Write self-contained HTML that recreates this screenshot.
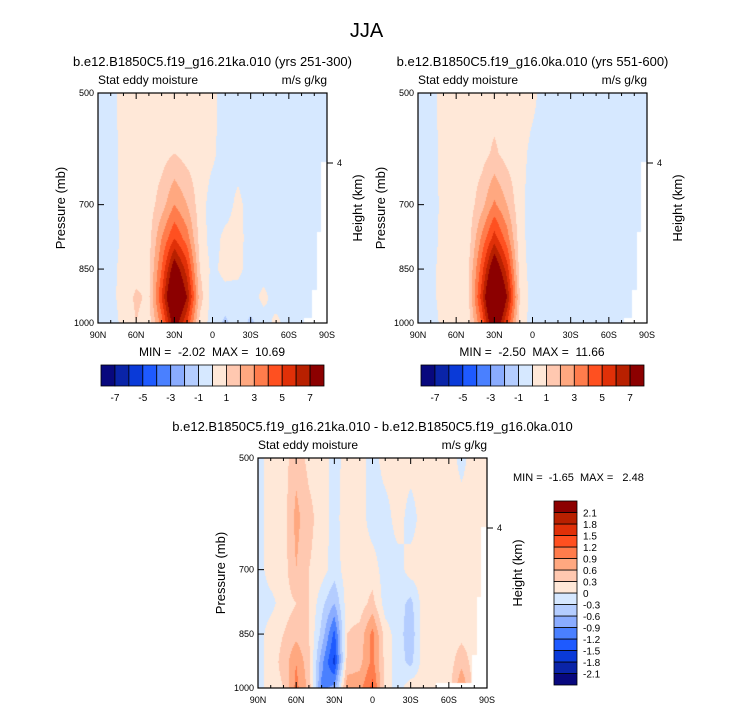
<!DOCTYPE html>
<html><head><meta charset="utf-8"><style>
body{margin:0;background:#fff;width:733px;height:712px;overflow:hidden;position:relative;font-family:"Liberation Sans",Arial,sans-serif}
.t{position:absolute;white-space:nowrap;color:#000}
canvas{position:absolute}
svg{position:absolute;left:0;top:0}
svg text{white-space:pre}
</style></head><body>
<div class="t" style="left:0;width:733px;text-align:center;top:20px;font-size:20px">JJA</div>
<svg id="ov" width="733" height="712"></svg>
<script>
const lats=[90,80,70,60,50,40,30,20,10,0,-10,-20,-30,-40,-50,-60,-70,-80,-90];
const plevs=[500,600,700,775,850,925,1000];
const grid1=[
[-0.5,-0.5,0.5,0.5,0.5,0.5,0.5,0.5,0.5,0.3,-0.5,-0.5,-0.5,-0.5,-0.5,-0.5,-0.5,-0.5,-0.5],
[-0.5,-0.5,0.4,0.5,0.5,0.6,1.0,0.6,0.5,0.2,-0.5,-0.5,-0.5,-0.5,-0.5,-0.5,-0.5,-0.5,-0.5],
[-0.5,-0.4,0.3,0.4,0.5,1.5,3.0,2.0,0.5,-0.5,-0.5,0.3,-0.5,-0.5,-0.5,-0.5,-0.5,-0.5,-0.5],
[-0.5,-0.4,0.2,0.4,0.6,3.0,5.0,3.5,0.6,-0.5,0.3,0.4,-0.5,-0.5,-0.5,-0.5,-0.5,-0.5,-0.5],
[-0.5,-0.3,0.3,0.5,0.8,4.0,8.0,5.5,1.0,-0.3,0.4,0.3,-0.5,-0.5,-0.5,-0.5,-0.5,-0.5,-0.5],
[-0.5,-0.3,0.4,1.2,0.8,5.0,10.0,7.0,1.5,-0.5,-0.5,-0.5,-0.5,0.3,-0.5,-0.5,-0.5,-0.5,-0.5],
[-0.5,-0.5,0.3,1.0,0.5,3.5,8.0,5.0,0.7,-0.5,-1.2,-0.5,-1.2,-0.5,0.3,-0.5,-0.5,-0.5,-0.5]];
const grid2=[
[-0.5,-0.5,0.5,0.5,0.5,0.5,0.5,0.5,0.5,0.3,-0.5,-0.5,-0.5,-0.5,-0.5,-0.5,-0.5,-0.5,-0.5],
[-0.5,-0.5,0.4,0.4,0.5,0.6,1.2,0.6,0.4,-0.3,-0.5,-0.5,-0.5,-0.5,-0.5,-0.5,-0.5,-0.5,-0.5],
[-0.5,-0.5,0.3,0.4,0.5,1.6,3.2,2.0,0.3,-0.5,-0.5,-0.5,-0.5,-0.5,-0.5,-0.5,-0.5,-0.5,-0.5],
[-0.5,-0.4,0.3,0.4,0.6,3.2,5.5,3.5,0.4,-0.5,-0.5,-0.5,-0.5,-0.5,-0.5,-0.5,-0.5,-0.5,-0.5],
[-0.5,-0.3,0.4,0.5,1.0,4.5,8.5,5.5,0.6,-0.5,-0.5,-0.5,-0.5,-0.5,-0.5,-0.5,-0.5,-0.5,-0.5],
[-0.5,-0.3,0.4,0.6,1.0,5.5,11.0,7.0,1.0,-0.5,-0.5,-0.5,-0.5,-0.5,-0.5,-0.5,-0.5,-0.5,-0.5],
[-0.5,-0.5,0.3,0.6,0.6,4.0,9.0,5.0,0.6,-0.5,-1.0,-0.5,-0.5,-0.5,-0.5,-0.5,-0.5,-0.5,-0.5]];
const grid3=[
[-0.15,0.15,0.15,0.5,0.2,0.2,-0.15,0.15,0.15,-0.15,0.15,0.15,0.15,0.15,0.15,0.15,-0.1,0.15,0.15],
[-0.15,0.15,0.15,0.7,0.4,0.15,-0.1,0.15,0.15,-0.15,-0.15,0.15,-0.15,0.15,0.15,0.15,0.15,0.15,0.15],
[-0.15,0.15,0.15,0.6,0.3,0.15,-0.15,0.15,0.15,0.15,-0.15,-0.15,0.15,0.15,0.15,0.15,0.15,0.15,0.15],
[-0.15,-0.1,0.15,0.3,0.3,-0.2,-0.6,0.15,0.15,0.4,-0.15,-0.15,-0.4,0.15,0.15,0.15,0.15,0.15,0.15],
[-0.15,0.15,0.3,0.5,0.3,-0.4,-1.3,0.3,0.4,1.0,0.15,-0.15,-0.5,0.15,0.15,0.15,0.2,0.15,0.15],
[-0.15,0.15,0.4,0.9,0.4,-0.8,-1.6,0.4,0.5,1.0,0.2,-0.15,-0.4,0.15,0.15,0.15,0.5,0.15,0.15],
[-0.15,0.15,0.3,1.0,0.5,-1.0,-0.8,0.8,0.8,1.3,0.15,-0.15,0.2,0.15,0.15,0.15,0.9,0.15,0.15]];
const lev1=[-7,-6,-5,-4,-3,-2,-1,0,1,2,3,4,5,6,7];
const lev3=[-2.1,-1.8,-1.5,-1.2,-0.9,-0.6,-0.3,0,0.3,0.6,0.9,1.2,1.5,1.8,2.1];
const cols=["#08087e","#0a24a8","#0a3ad8","#1e5aff","#4a80ff","#8aacff","#b4cdff","#d6e8ff","#ffe8d8","#ffc8b0","#ffa880","#ff7c4c","#ff5020","#e03008","#b82000","#8c0000"];
const svg=document.getElementById('ov');const NS="http://www.w3.org/2000/svg";
function el(t,a,txt){const e=document.createElementNS(NS,t);for(const k in a)e.setAttribute(k,a[k]);if(txt!=null)e.textContent=txt;svg.appendChild(e);return e;}
const W=229,H=230;
function xs(ox,lat){return ox+(90-lat)/180*W;}
function ys(oy,p){return oy+Math.log(p/500)/Math.log(2)*H;}
function colorOf(v,lev){let i=0;while(i<lev.length&&v>=lev[i])i++;return cols[i];}
function masked(lat,p,wide){
  if(lat<-85.5&&p>615)return true;
  if(lat<-82&&p>760)return true;
  if(lat<-78&&p>905)return true;
  if(lat<(wide?-50:-72)&&p>985)return true;
  return false;}
function sample(g,lat,p){
  let i=Math.min(17,Math.floor((90-lat)/10));let fx=(90-lat)/10-i;
  let j=0;while(j<plevs.length-2&&p>plevs[j+1])j++;
  let fy=(Math.log(p)-Math.log(plevs[j]))/(Math.log(plevs[j+1])-Math.log(plevs[j]));
  const a=g[j][i],b=g[j][i+1],c=g[j+1][i],d=g[j+1][i+1];
  return a*(1-fx)*(1-fy)+b*fx*(1-fy)+c*(1-fx)*fy+d*fx*fy;}
function panel(name,ox,oy,g,lev,title,wide){
  const cv=document.createElement('canvas');cv.width=W;cv.height=H;cv.style.left=ox+'px';cv.style.top=oy+'px';
  
  document.body.insertBefore(cv,svg);
  const ctx=cv.getContext('2d');
  for(let y=0;y<H;y++){const p=500*Math.pow(2,(y+0.5)/H);
    for(let x=0;x<W;x++){const lat=90-(x+0.5)/W*180;if(masked(lat,p,wide))continue;const v=sample(g,lat,p);
      ctx.fillStyle=colorOf(v,lev);ctx.fillRect(x,y,1,1);}}
  el('rect',{x:ox,y:oy,width:W,height:H,fill:'none',stroke:'#000','stroke-width':1.2,});
  const lbl=['90N','60N','30N','0','30S','60S','90S'];
  for(let k=0;k<=18;k++){const x=xs(ox,90-k*10);const L=k%3==0?6:3;
    el('line',{x1:x,x2:x,y1:oy+H,y2:oy+H-L,stroke:'#000'});el('line',{x1:x,x2:x,y1:oy,y2:oy+L,stroke:'#000'});
    if(k%3==0)el('text',{x:x,y:oy+H+15,'font-size':9,'text-anchor':'middle',},lbl[k/3]);}
  [500,700,850,1000].forEach(p=>{const y=ys(oy,p);el('line',{x1:ox,x2:ox+6,y1:y,y2:y,stroke:'#000'});
    el('text',{x:ox-4,y:y+3,'font-size':9,'text-anchor':'end',},p);});
  const hy=oy+70;el('line',{x1:ox+W,x2:ox+W+6,y1:hy,y2:hy,stroke:'#000'});
  el('text',{x:ox+W+10,y:hy+3,'font-size':9,},'4');
  el('text',{x:ox+W/2,y:oy-27,'font-size':13,'text-anchor':'middle',},title);
  el('text',{x:ox,y:oy-9,'font-size':12,},'Stat eddy moisture');
  el('text',{x:ox+W,y:oy-9,'font-size':12,'text-anchor':'end',},'m/s g/kg');
  el('text',{x:ox-33,y:oy+H/2,'font-size':13,'text-anchor':'middle',transform:`rotate(-90 ${ox-33} ${oy+H/2})`,},'Pressure (mb)');
  el('text',{x:ox+W+35,y:oy+H/2,'font-size':13,'text-anchor':'middle',transform:`rotate(-90 ${ox+W+35} ${oy+H/2})`,},'Height (km)');
}
function hbar(name,x0,y0,w,h,lev,labs){const cw=w/16;
  for(let i=0;i<16;i++)el('rect',{x:x0+i*cw,y:y0,width:cw,height:h,fill:cols[i],stroke:'#000','stroke-width':0.8,});
  labs.forEach(v=>{const i=lev.indexOf(v);el('text',{x:x0+(i+1)*cw,y:y0+h+15,'font-size':10,'text-anchor':'middle',},v);});}
panel('panel-1',98,93,grid1,lev1,'b.e12.B1850C5.f19_g16.21ka.010 (yrs 251-300)',false);
panel('panel-2',418,93,grid2,lev1,'b.e12.B1850C5.f19_g16.0ka.010 (yrs 551-600)',false);
panel('panel-3',258,458,grid3,lev3,'b.e12.B1850C5.f19_g16.21ka.010 - b.e12.B1850C5.f19_g16.0ka.010',true);
el('text',{x:212,y:356,'font-size':12,'text-anchor':'middle',},'MIN =  -2.02  MAX =  10.69');
el('text',{x:532,y:356,'font-size':12,'text-anchor':'middle',},'MIN =  -2.50  MAX =  11.66');
el('text',{x:513,y:481,'font-size':11,},'MIN =  -1.65  MAX =   2.48');
hbar('colorbar-1',101,365,223,21,lev1,[-7,-5,-3,-1,1,3,5,7]);
hbar('colorbar-2',421,365,223,21,lev1,[-7,-5,-3,-1,1,3,5,7]);
(function(){const x0=554,y0=501,w=23,h=184,ch=h/16;
  for(let i=0;i<16;i++)el('rect',{x:x0,y:y0+(15-i)*ch,width:w,height:ch,fill:cols[i],stroke:'#000','stroke-width':0.8,});
  lev3.forEach((v,i)=>el('text',{x:x0+w+6,y:y0+(15-i)*ch+4,'font-size':10,},v));})();
</script>
</body></html>
